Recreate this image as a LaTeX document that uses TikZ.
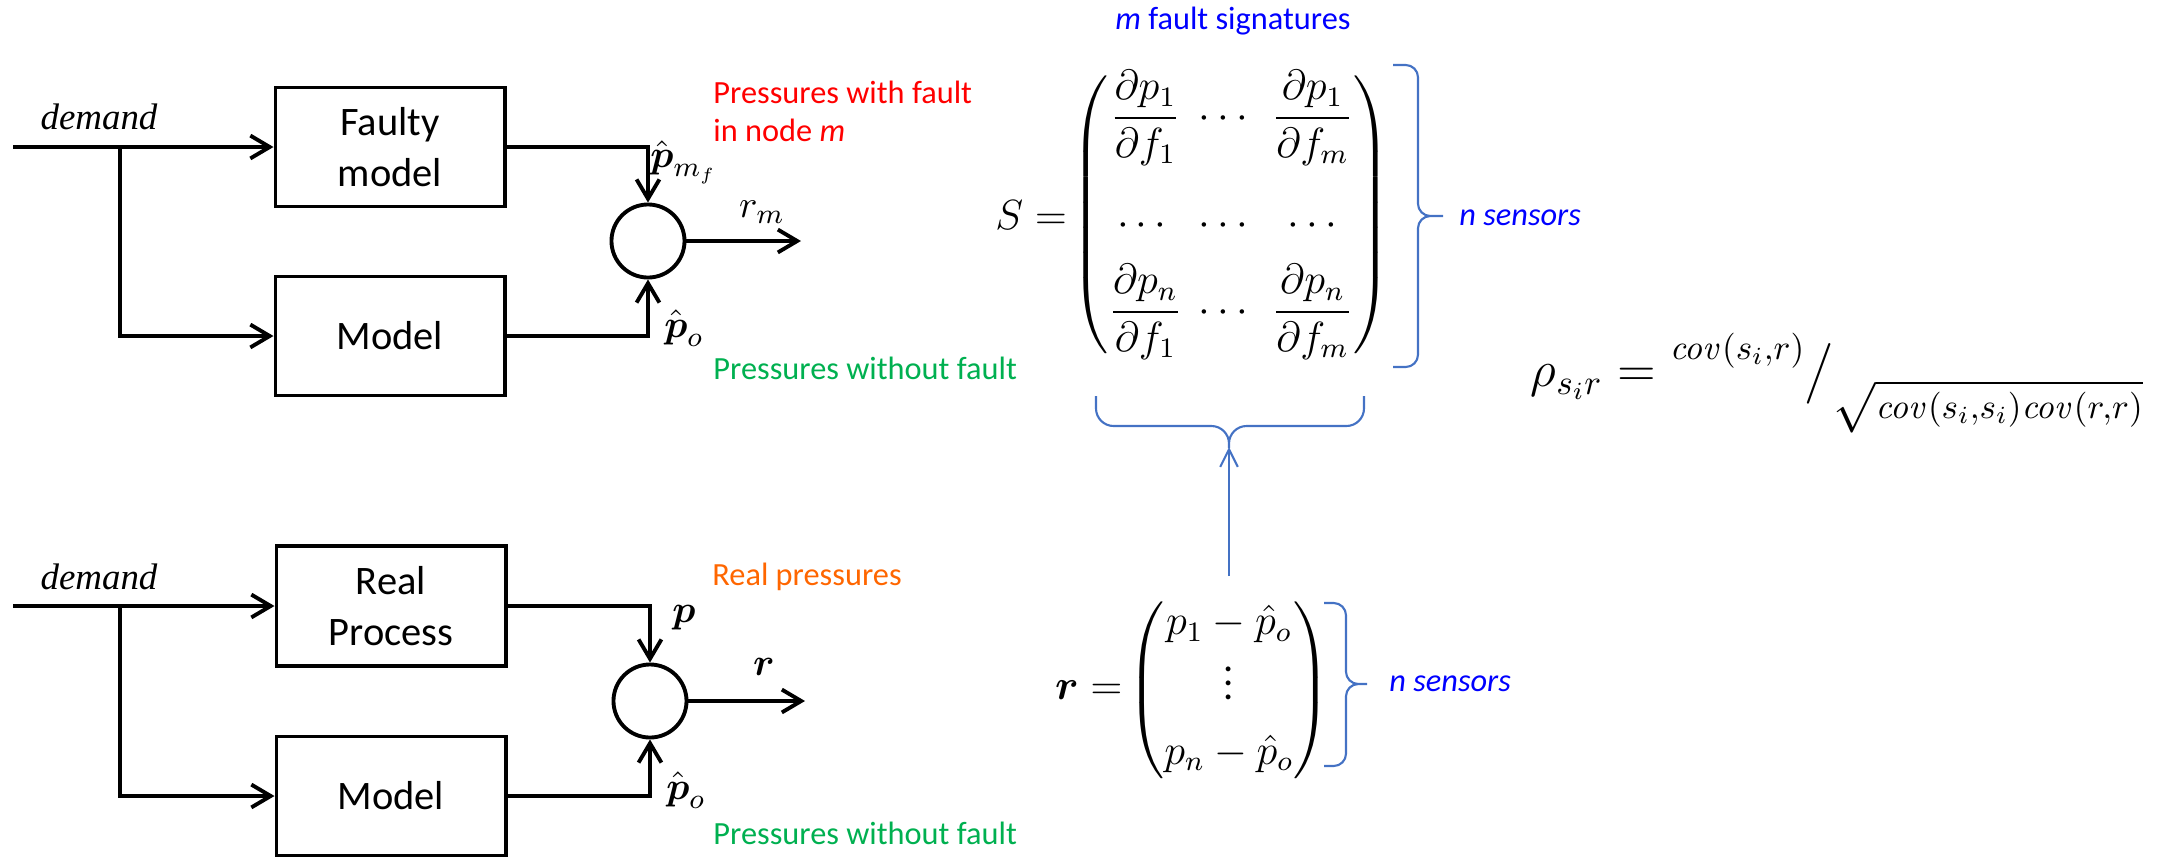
\documentclass[tikz,border=0pt]{standalone}
\usepackage{amsmath}
\usepackage[no-math]{fontspec}
\setmainfont{Carlito}
\newfontfamily\serifit{Liberation Serif}
\usetikzlibrary{arrows.meta}
\definecolor{offblue}{RGB}{68,114,196}
\definecolor{txtred}{RGB}{255,0,0}
\definecolor{txtgreen}{RGB}{0,176,80}
\definecolor{txtorange}{RGB}{255,102,0}
\definecolor{txtblue}{RGB}{0,0,255}

\begin{document}
\begin{tikzpicture}[x=0.01cm, y=-0.01cm, >={Straight Barb[length=5.5pt,width=6.5pt]},
  blk/.style={draw, line width=1.1pt, minimum width=2.29cm, minimum height=1.19cm, align=center, font=\fontsize{11.5}{14.5}\selectfont},
  sumnode/.style={draw, circle, line width=1.1pt, minimum size=0.73cm, inner sep=0pt},
  wire/.style={line width=1.1pt},
  lbl/.style={font=\fontsize{11}{13}\selectfont},
  note/.style={anchor=west, align=left, font=\fontsize{9.2}{10.8}\selectfont},
  dem/.style={font=\fontsize{10.5}{12}\serifit\itshape},
  mth/.style={inner sep=0pt, font=\fontsize{12}{14}\selectfont},
  brc/.style={draw=offblue, line width=0.6pt, rounded corners=#1},
  brc/.default=3.5pt]

\useasboundingbox (0,0) rectangle (2177,857);

\node[dem] (d1) at (99,117) {demand};
\coordinate (in1) at (13,147);
\coordinate (br1) at (120,147);
\node[blk] (flt) at (390,147) {Faulty\\model};
\node[blk] (mod1) at (390,336) {Model};
\node[sumnode] (s1) at (648,241) {};
\coordinate (o1) at (801,241);
\draw[wire,->] (in1) -- (flt);
\draw[wire,->] (br1) |- (mod1);
\draw[wire,->] (flt) -| (s1);
\draw[wire,->] (mod1) -| (s1);
\draw[wire,->] (s1) -- (o1);
\node[lbl] (pmf) at (684,162) {$\hat{\boldsymbol p}_{m_f}$};
\node[lbl] (po1) at (684,328) {$\hat{\boldsymbol p}_o$};
\node[lbl] (rm) at (762,212) {$r_m$};
\node[note, text=txtred] (n1) at (701,111) {Pressures with fault\\in node \textit{m}};
\node[note, text=txtgreen] (n2) at (701,368) {Pressures without fault};

\node[dem] (d2) at (99,577) {demand};
\coordinate (in2) at (13,606);
\coordinate (br2) at (120,606);
\node[blk, minimum height=1.2cm] (real) at (391,606) {Real\\Process};
\node[blk] (mod2) at (391,796) {Model};
\node[sumnode] (s2) at (650,701) {};
\coordinate (o2) at (805,701);
\draw[wire,->] (in2) -- (real);
\draw[wire,->] (br2) |- (mod2);
\draw[wire,->] (real) -| (s2);
\draw[wire,->] (mod2) -| (s2);
\draw[wire,->] (s2) -- (o2);
\node[lbl] (pr) at (684,618) {$\boldsymbol p$};
\node[lbl] (po2) at (686,790) {$\hat{\boldsymbol p}_o$};
\node[lbl] (rr) at (764,667) {$\boldsymbol r$};
\node[note, text=txtorange] (n3) at (700,577) {Real pressures};
\node[note, text=txtgreen] (n4) at (701,833) {Pressures without fault};

\node[note, anchor=center, text=txtblue] (msig) at (1233,21) {\textit{m} fault signatures};
\node[mth] (Smat) at (1231,215) {\setlength\arraycolsep{2.4pt}$\begin{pmatrix}
  \dfrac{\partial p_1}{\partial f_1} & \cdots & \dfrac{\partial p_1}{\partial f_m}\\[16.5pt]
  \cdots & \cdots & \cdots\\[4pt]
  \dfrac{\partial p_n}{\partial f_1} & \cdots & \dfrac{\partial p_n}{\partial f_m}
  \end{pmatrix}$};
\node[mth, anchor=east, inner sep=1pt] (Slbl) at (Smat.west) {$S=$};
\draw[brc] (1393,65) -| (1418,216) -- (1443,216) (1393,367) -| (1418,216) -- (1443,216);
\node[note, text=txtblue] (ns1) at (1447,218) {\textit{n sensors}};
\draw[brc=5pt] (1096,396) |- (1229,426) -- (1229,448) (1364,396) |- (1229,426) -- (1229,448);
\coordinate (Stip) at (1229,447);

\node[mth, font=\fontsize{11.5}{13.5}\selectfont] (rmat) at (1229,690) {$\begin{pmatrix}
  p_1-\hat p_o\\[-1pt]
  \vdots\\[5pt]
  p_n-\hat p_o
  \end{pmatrix}$};
\node[mth, anchor=east, inner sep=1pt] (rlbl) at (rmat.west) {$\boldsymbol r=$};
\draw[brc] (1324,603) -| (1346,684) -- (1367,684) (1324,766) -| (1346,684) -- (1367,684);
\node[note, text=txtblue] (ns2) at (1377,684) {\textit{n sensors}};
\draw[offblue, line width=0.6pt, -{Straight Barb[length=5pt,width=5pt]}, shorten <=7pt] (rmat.north) -- (Stip);

\node[anchor=west, inner sep=0pt, font=\fontsize{14.5}{16}\selectfont] (rho) at (1530,383)
  {$\rho_{s_i r} = \raisebox{1.1ex}{$\scriptstyle\mathit{cov}(s_i,r)$}\big/\raisebox{-1.3ex}{$\scriptstyle\sqrt{\mathit{cov}(s_i,s_i)\mathit{cov}(r,r)}$}$};
\end{tikzpicture}
\end{document}
